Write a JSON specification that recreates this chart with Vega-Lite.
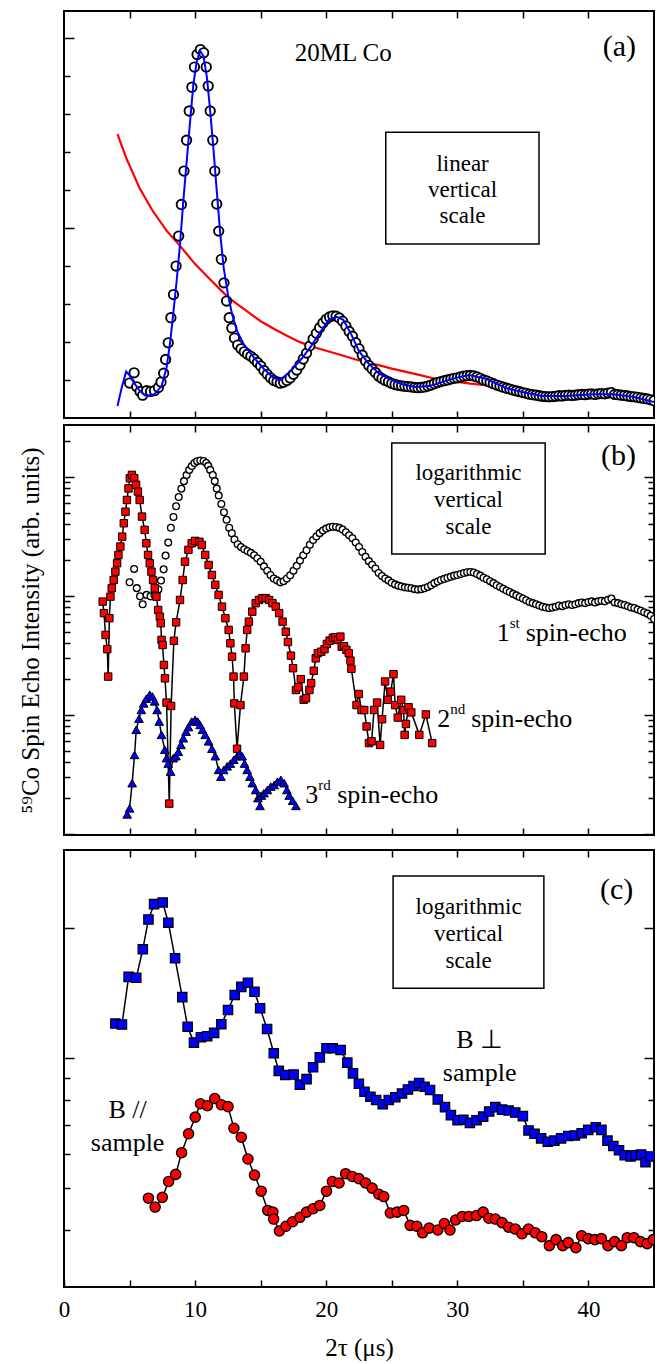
{
"$schema": "https://vega.github.io/schema/vega-lite/v6.json",
"background": "white",
"padding": {"left": 17, "top": 9, "right": 5, "bottom": 5},
"config": {
  "view": {"stroke": "black", "strokeWidth": 2},
  "axis": {"domain": false, "grid": false, "tickColor": "black", "tickWidth": 1.5, "labelFont": "Liberation Serif", "titleFont": "Liberation Serif", "labelColor": "black", "titleColor": "black", "titleFontWeight": "normal"},
  "text": {"font": "Liberation Serif", "color": "black"}
},
"datasets": {
  "echo1": [
    {"x":5.0,"y":13.04},{"x":5.35,"y":16.86},{"x":5.55,"y":11.62},{"x":5.8,"y":9.92},{"x":6.0,"y":8.5},{"x":6.3,"y":10.2},{"x":6.6,"y":9.92},{"x":6.9,"y":10.2},{"x":7.2,"y":11.34},{"x":7.4,"y":13.46},{"x":7.6,"y":16.72},{"x":7.75,"y":21.82},{"x":7.95,"y":28.06},{"x":8.15,"y":37.41},{"x":8.35,"y":46.05},{"x":8.55,"y":56.68},{"x":8.75,"y":67.87},{"x":8.95,"y":79.64},{"x":9.15,"y":92.1},{"x":9.35,"y":103.6},{"x":9.55,"y":114.5},{"x":9.75,"y":123.4},{"x":9.95,"y":130.9},{"x":10.15,"y":135.6},{"x":10.4,"y":137.4},{"x":10.65,"y":136.2},{"x":10.85,"y":130.9},{"x":11.0,"y":123.8},{"x":11.15,"y":114.5},{"x":11.35,"y":103.6},{"x":11.5,"y":92.1},{"x":11.65,"y":79.8},{"x":11.8,"y":69.7},{"x":12.0,"y":59.2},{"x":12.2,"y":50.4},{"x":12.4,"y":43.6},{"x":12.6,"y":37.4},{"x":12.8,"y":33.6},{"x":13.0,"y":29.8},{"x":13.25,"y":27.2},{"x":13.5,"y":25.8},{"x":13.75,"y":24.7},{"x":14.0,"y":23.8},{"x":14.25,"y":23.0},{"x":14.5,"y":22.0},{"x":14.75,"y":20.7},{"x":15.0,"y":19.4},{"x":15.25,"y":17.7},{"x":15.5,"y":16.3},{"x":15.75,"y":15.0},{"x":16.0,"y":14.0},{"x":16.25,"y":13.5},{"x":16.5,"y":13.0},{"x":16.75,"y":13.3},{"x":17.0,"y":14.0},{"x":17.25,"y":14.9},{"x":17.5,"y":16.3},{"x":17.75,"y":17.9},{"x":18.0,"y":19.8},{"x":18.25,"y":22.0},{"x":18.5,"y":24.2},{"x":18.75,"y":26.9},{"x":19.0,"y":29.5},{"x":19.25,"y":31.6},{"x":19.5,"y":33.7},{"x":19.75,"y":35.4},{"x":20.0,"y":36.8},{"x":20.25,"y":37.7},{"x":20.5,"y":38.1},{"x":20.75,"y":38.0},{"x":21.0,"y":37.3},{"x":21.25,"y":36.1},{"x":21.5,"y":34.3},{"x":21.75,"y":32.3},{"x":22.0,"y":30.5},{"x":22.25,"y":28.1},{"x":22.5,"y":25.8},{"x":22.75,"y":23.4},{"x":23.0,"y":21.3},{"x":23.25,"y":19.6},{"x":23.5,"y":18.3},{"x":23.75,"y":17.0},{"x":24.0,"y":15.6},{"x":24.25,"y":14.7},{"x":24.5,"y":14.0},{"x":24.75,"y":13.5},
    {"x":25.0,"y":12.9},{"x":25.25,"y":12.5},{"x":25.5,"y":12.2},{"x":25.75,"y":12.0},{"x":26.0,"y":11.8},{"x":26.25,"y":11.7},{"x":26.5,"y":11.6},{"x":26.75,"y":11.4},{"x":27.0,"y":11.3},{"x":27.25,"y":11.4},{"x":27.5,"y":11.6},{"x":27.75,"y":11.9},{"x":28.0,"y":12.3},{"x":28.25,"y":12.8},{"x":28.5,"y":13.2},{"x":28.75,"y":13.6},{"x":29.0,"y":13.9},{"x":29.25,"y":14.2},{"x":29.5,"y":14.5},{"x":29.75,"y":14.8},{"x":30.0,"y":15.0},{"x":30.25,"y":15.3},{"x":30.5,"y":15.6},{"x":30.75,"y":15.8},{"x":31.0,"y":15.9},{"x":31.25,"y":15.7},{"x":31.5,"y":15.3},{"x":31.75,"y":14.8},{"x":32.0,"y":14.2},{"x":32.25,"y":13.8},{"x":32.5,"y":13.3},{"x":32.75,"y":12.8},{"x":33.0,"y":12.3},{"x":33.25,"y":11.9},{"x":33.5,"y":11.5},{"x":33.75,"y":11.1},{"x":34.0,"y":10.8},{"x":34.25,"y":10.4},{"x":34.5,"y":10.1},{"x":34.75,"y":9.8},{"x":35.0,"y":9.5},{"x":35.25,"y":9.2},{"x":35.5,"y":8.9},{"x":35.75,"y":8.7},{"x":36.0,"y":8.5},{"x":36.25,"y":8.3},{"x":36.5,"y":8.1},{"x":36.75,"y":8.0},{"x":37.0,"y":7.9},{"x":37.25,"y":8.0},{"x":37.5,"y":8.1},{"x":37.75,"y":8.3},{"x":38.0,"y":8.2},{"x":38.25,"y":8.4},{"x":38.5,"y":8.5},{"x":38.75,"y":8.4},{"x":39.0,"y":8.5},{"x":39.25,"y":8.7},{"x":39.5,"y":8.8},{"x":39.75,"y":8.7},{"x":40.0,"y":8.9},{"x":40.25,"y":9.0},{"x":40.5,"y":8.8},{"x":40.75,"y":9.0},{"x":41.0,"y":9.1},{"x":41.25,"y":9.0},{"x":41.5,"y":9.3},{"x":41.75,"y":9.5},{"x":42.0,"y":8.8},{"x":42.25,"y":8.7},{"x":42.5,"y":8.5},{"x":42.75,"y":8.4},{"x":43.0,"y":8.2},{"x":43.25,"y":8.0},{"x":43.5,"y":7.9},{"x":43.75,"y":7.7},{"x":44.0,"y":7.5},{"x":44.25,"y":7.3},{"x":44.5,"y":7.1},{"x":44.75,"y":6.8},{"x":45.0,"y":6.4}
  ],
  "redfit": [
    {"x":4.08,"y":105.9},{"x":4.75,"y":96.9},{"x":5.77,"y":85.7},{"x":6.77,"y":77.2},{"x":7.85,"y":69.7},{"x":8.85,"y":64.2},{"x":10.0,"y":57.4},{"x":11.0,"y":52.4},{"x":12.0,"y":47.5},{"x":12.5,"y":45.1},{"x":13.0,"y":43.2},{"x":14.0,"y":39.7},{"x":15.0,"y":36.1},{"x":16.0,"y":33.3},{"x":17.0,"y":30.7},{"x":18.0,"y":28.3},{"x":19.0,"y":26.5},{"x":20.0,"y":25.1},{"x":21.0,"y":23.7},{"x":22.0,"y":22.2},{"x":23.0,"y":20.8},{"x":24.0,"y":19.7},{"x":25.0,"y":18.4},{"x":26.0,"y":17.3},{"x":27.0,"y":16.2},{"x":28.0,"y":15.0},{"x":29.0,"y":14.2},{"x":30.0,"y":13.5},{"x":31.0,"y":12.8},{"x":32.0,"y":12.3}
  ],
  "bluefit": [
    {"x":4.08,"y":4.5},{"x":4.4,"y":11.3},{"x":4.74,"y":17.3},{"x":5.0,"y":15.9},{"x":5.26,"y":13.7},{"x":5.77,"y":10.1},{"x":6.28,"y":8.2},{"x":6.9,"y":8.9},{"x":7.44,"y":11.9},{"x":7.82,"y":18.7},{"x":8.08,"y":27.6},{"x":8.33,"y":38.7},{"x":8.59,"y":51.0},{"x":8.85,"y":64.9},{"x":9.1,"y":80.9},{"x":9.36,"y":95.8},{"x":9.62,"y":110.8},{"x":9.87,"y":124.6},{"x":10.13,"y":133.1},{"x":10.38,"y":136.9},{"x":10.64,"y":135.0},{"x":10.9,"y":127.0},{"x":11.15,"y":114.5},{"x":11.41,"y":99.6},{"x":11.67,"y":83.5},{"x":11.92,"y":68.6},{"x":12.18,"y":56.0},{"x":12.5,"y":46.2},{"x":12.82,"y":38.7},{"x":13.2,"y":32.4},{"x":13.7,"y":27.6},{"x":14.5,"y":22.4},{"x":15.25,"y":18.3},{"x":16.0,"y":14.9},{"x":16.5,"y":14.2},{"x":17.3,"y":17.6},{"x":18.1,"y":22.0},{"x":18.85,"y":26.8},{"x":19.6,"y":32.4},{"x":20.2,"y":36.6},{"x":20.8,"y":37.7},{"x":21.3,"y":36.6},{"x":21.9,"y":31.3},{"x":22.5,"y":24.9},{"x":23.2,"y":20.5},{"x":24.0,"y":16.7},{"x":24.8,"y":14.6},{"x":25.8,"y":12.6},{"x":26.8,"y":11.6},{"x":27.85,"y":11.9},{"x":28.7,"y":13.2},{"x":29.6,"y":14.6},{"x":30.9,"y":16.0},{"x":32.2,"y":14.6},{"x":33.7,"y":11.2},{"x":35.2,"y":9.4},{"x":36.5,"y":8.2},{"x":38.3,"y":8.2},{"x":40.4,"y":8.9},{"x":41.9,"y":8.9},{"x":43.5,"y":7.8},{"x":45.0,"y":6.0}
  ],
  "echo2": [
    {"x":2.95,"y":8.96},{"x":3.05,"y":7.17},{"x":3.17,"y":4.7},{"x":3.3,"y":3.57},{"x":3.37,"y":2.1},{"x":3.46,"y":6.5},{"x":3.54,"y":9.86},{"x":3.64,"y":11.6},{"x":3.79,"y":13.6},{"x":3.92,"y":16},{"x":4.05,"y":18.8},{"x":4.15,"y":22.1},{"x":4.3,"y":26},{"x":4.44,"y":31.5},{"x":4.56,"y":40.8},{"x":4.69,"y":51},{"x":4.8,"y":64},{"x":4.92,"y":80},{"x":5.02,"y":97.5},{"x":5.18,"y":104},{"x":5.36,"y":97.5},{"x":5.5,"y":85.8},{"x":5.64,"y":75.3},{"x":5.77,"y":64},{"x":5.95,"y":46.4},{"x":6.15,"y":35.9},{"x":6.28,"y":27.7},{"x":6.41,"y":22.1},{"x":6.54,"y":18.8},{"x":6.67,"y":16},{"x":6.79,"y":13.6},{"x":6.92,"y":11.6},{"x":7.05,"y":9.86},{"x":7.18,"y":7.62},{"x":7.31,"y":6.7},{"x":7.38,"y":5.9},{"x":7.44,"y":4.27},{"x":7.52,"y":3.87},{"x":7.62,"y":2.63},{"x":7.7,"y":2.03},{"x":7.82,"y":1.27},{"x":8.03,"y":0.18},{"x":8.17,"y":1.19},{"x":8.38,"y":4.2},{"x":8.55,"y":6.0},{"x":8.85,"y":9.25},{"x":9.05,"y":13.6},{"x":9.23,"y":19.4},{"x":9.49,"y":24.4},{"x":9.74,"y":27.7},{"x":10.0,"y":29},{"x":10.33,"y":28.5},{"x":10.51,"y":26.8},{"x":10.77,"y":22.1},{"x":11.03,"y":18.2},{"x":11.28,"y":15},{"x":11.54,"y":12.4},{"x":11.79,"y":10.2},{"x":12.05,"y":8.13},{"x":12.31,"y":6.5},{"x":12.56,"y":5.18},{"x":12.69,"y":4.0},{"x":12.82,"y":3.09},{"x":12.93,"y":2.1},{"x":12.99,"y":1.25},{"x":13.2,"y":0.52},{"x":13.46,"y":1.21},{"x":13.72,"y":2.1},{"x":13.85,"y":3.63},{"x":13.97,"y":5.18},{"x":14.1,"y":6.08},{"x":14.36,"y":7.38},{"x":14.62,"y":8.69},{"x":14.87,"y":9.25},{"x":15.13,"y":9.58},{"x":15.38,"y":9.58},{"x":15.64,"y":9.25},{"x":15.9,"y":8.69},{"x":16.15,"y":8.13},{"x":16.41,"y":7.17},{"x":16.67,"y":6.08},{"x":16.92,"y":5.0},{"x":17.08,"y":4.1},{"x":17.31,"y":3.15},{"x":17.47,"y":2.47},{"x":17.69,"y":1.62},{"x":17.87,"y":1.71},{"x":18.06,"y":2.0},{"x":18.28,"y":1.34},{"x":18.46,"y":1.38},{"x":18.72,"y":1.62},{"x":18.85,"y":1.85},{"x":19.05,"y":2.35},{"x":19.2,"y":2.99},{"x":19.36,"y":3.3},{"x":19.62,"y":3.4},{"x":19.87,"y":3.57},{"x":20.05,"y":3.95},{"x":20.26,"y":4.21},{"x":20.51,"y":4.45},{"x":20.69,"y":4.5},{"x":20.9,"y":4.27},{"x":21.08,"y":4.55},{"x":21.18,"y":3.74},{"x":21.36,"y":3.78},{"x":21.54,"y":3.52},{"x":21.72,"y":3.3},{"x":21.85,"y":2.86},{"x":21.92,"y":2.44},{"x":22.31,"y":1.21},{"x":22.48,"y":1.5},{"x":22.69,"y":1.1},{"x":22.9,"y":1.1},{"x":23.08,"y":0.8},{"x":23.26,"y":0.58},{"x":23.46,"y":0.6},{"x":23.65,"y":1.1},{"x":23.88,"y":1.27},{"x":24.11,"y":0.56},{"x":24.26,"y":0.92},{"x":24.49,"y":1.91},{"x":24.7,"y":1.34},{"x":24.92,"y":1.57},{"x":25.13,"y":2.2},{"x":25.26,"y":1.21},{"x":25.46,"y":0.95},{"x":25.72,"y":1.34},{"x":25.9,"y":1.1},{"x":25.98,"y":0.68},{"x":26.08,"y":0.84},{"x":26.28,"y":1.16},{"x":26.49,"y":1.05},{"x":27.1,"y":0.68},{"x":27.6,"y":1.01},{"x":28.08,"y":0.58}
  ],
  "echo3": [
    {"x":4.82,"y":0.146},{"x":5.0,"y":0.164},{"x":5.2,"y":0.267},{"x":5.38,"y":0.461},{"x":5.51,"y":0.75},{"x":5.72,"y":0.93},{"x":5.9,"y":1.1},{"x":6.08,"y":1.25},{"x":6.28,"y":1.37},{"x":6.54,"y":1.48},{"x":6.74,"y":1.43},{"x":6.92,"y":1.3},{"x":7.1,"y":1.1},{"x":7.26,"y":0.88},{"x":7.44,"y":0.68},{"x":7.69,"y":0.51},{"x":7.82,"y":0.433},{"x":7.95,"y":0.39},{"x":8.13,"y":0.334},{"x":8.33,"y":0.433},{"x":8.54,"y":0.45},{"x":8.72,"y":0.49},{"x":8.92,"y":0.56},{"x":9.1,"y":0.637},{"x":9.31,"y":0.724},{"x":9.49,"y":0.79},{"x":9.74,"y":0.88},{"x":10.0,"y":0.91},{"x":10.2,"y":0.88},{"x":10.38,"y":0.824},{"x":10.56,"y":0.75},{"x":10.77,"y":0.68},{"x":11.03,"y":0.6},{"x":11.28,"y":0.52},{"x":11.54,"y":0.45},{"x":11.79,"y":0.345},{"x":11.97,"y":0.303},{"x":12.18,"y":0.345},{"x":12.44,"y":0.37},{"x":12.69,"y":0.39},{"x":12.95,"y":0.42},{"x":13.2,"y":0.45},{"x":13.41,"y":0.47},{"x":13.59,"y":0.45},{"x":13.77,"y":0.39},{"x":13.97,"y":0.345},{"x":14.18,"y":0.303},{"x":14.36,"y":0.267},{"x":14.62,"y":0.234},{"x":14.79,"y":0.2},{"x":14.95,"y":0.172},{"x":15.05,"y":0.21},{"x":15.25,"y":0.22},{"x":15.51,"y":0.234},{"x":15.77,"y":0.25},{"x":16.03,"y":0.258},{"x":16.28,"y":0.275},{"x":16.54,"y":0.285},{"x":16.79,"y":0.267},{"x":17.0,"y":0.234},{"x":17.18,"y":0.21},{"x":17.44,"y":0.19},{"x":17.69,"y":0.172}
  ],
  "perp": [
    {"x":3.92,"y":6.01},{"x":4.42,"y":5.98},{"x":4.93,"y":7.71},{"x":5.51,"y":7.67},{"x":6.01,"y":8.93},{"x":6.44,"y":10.47},{"x":6.87,"y":11.36},{"x":7.53,"y":11.46},{"x":7.96,"y":10.29},{"x":8.47,"y":8.51},{"x":9.02,"y":6.92},{"x":9.43,"y":5.91},{"x":9.91,"y":5.43},{"x":10.44,"y":5.59},{"x":10.92,"y":5.62},{"x":11.45,"y":5.72},{"x":12.0,"y":5.99},{"x":12.51,"y":6.46},{"x":13.02,"y":7.0},{"x":13.52,"y":7.31},{"x":14.03,"y":7.47},{"x":14.53,"y":7.12},{"x":14.96,"y":6.52},{"x":15.49,"y":5.84},{"x":16.0,"y":5.13},{"x":16.38,"y":4.67},{"x":16.88,"y":4.57},{"x":17.51,"y":4.58},{"x":17.99,"y":4.34},{"x":18.5,"y":4.47},{"x":19.0,"y":4.76},{"x":19.51,"y":5.02},{"x":20.02,"y":5.27},{"x":20.5,"y":5.27},{"x":21.1,"y":5.22},{"x":21.61,"y":4.88},{"x":22.04,"y":4.61},{"x":22.49,"y":4.36},{"x":22.92,"y":4.18},{"x":23.37,"y":4.07},{"x":23.81,"y":4.0},{"x":24.31,"y":3.91},{"x":24.77,"y":4.0},{"x":25.27,"y":4.06},{"x":25.78,"y":4.14},{"x":26.23,"y":4.23},{"x":26.66,"y":4.31},{"x":27.09,"y":4.38},{"x":27.5,"y":4.29},{"x":27.92,"y":4.22},{"x":28.51,"y":4.01},{"x":29.06,"y":3.85},{"x":29.51,"y":3.69},{"x":30.02,"y":3.59},{"x":30.46,"y":3.6},{"x":30.96,"y":3.54},{"x":31.46,"y":3.59},{"x":31.97,"y":3.66},{"x":32.43,"y":3.76},{"x":32.9,"y":3.85},{"x":33.41,"y":3.8},{"x":33.91,"y":3.78},{"x":34.42,"y":3.74},{"x":35.0,"y":3.67},{"x":35.43,"y":3.4},{"x":35.89,"y":3.34},{"x":36.39,"y":3.26},{"x":36.9,"y":3.2},{"x":37.4,"y":3.22},{"x":37.91,"y":3.26},{"x":38.46,"y":3.3},{"x":38.97,"y":3.31},{"x":39.48,"y":3.35},{"x":39.98,"y":3.41},{"x":40.56,"y":3.46},{"x":40.99,"y":3.41},{"x":41.45,"y":3.22},{"x":41.9,"y":3.13},{"x":42.33,"y":3.06},{"x":42.76,"y":2.98},{"x":43.21,"y":2.96},{"x":43.59,"y":2.98},{"x":44.02,"y":2.99},{"x":44.35,"y":2.87},{"x":44.73,"y":2.96}
  ],
  "para": [
    {"x":6.44,"y":2.37},{"x":6.95,"y":2.26},{"x":7.5,"y":2.38},{"x":7.98,"y":2.59},{"x":8.52,"y":2.69},{"x":8.97,"y":3.02},{"x":9.5,"y":3.34},{"x":10.01,"y":3.65},{"x":10.41,"y":3.92},{"x":10.94,"y":3.88},{"x":11.5,"y":4.03},{"x":12.0,"y":3.9},{"x":12.51,"y":3.86},{"x":12.96,"y":3.44},{"x":13.52,"y":3.28},{"x":14.03,"y":2.92},{"x":14.53,"y":2.68},{"x":15.04,"y":2.46},{"x":15.54,"y":2.22},{"x":15.93,"y":2.2},{"x":15.99,"y":2.12},{"x":16.43,"y":1.99},{"x":16.93,"y":2.04},{"x":17.44,"y":2.09},{"x":17.99,"y":2.14},{"x":18.5,"y":2.2},{"x":19.0,"y":2.24},{"x":19.51,"y":2.28},{"x":20.02,"y":2.46},{"x":20.47,"y":2.59},{"x":20.98,"y":2.57},{"x":21.48,"y":2.7},{"x":21.99,"y":2.66},{"x":22.49,"y":2.63},{"x":23.0,"y":2.57},{"x":23.5,"y":2.5},{"x":24.01,"y":2.42},{"x":24.39,"y":2.39},{"x":24.89,"y":2.19},{"x":25.4,"y":2.2},{"x":25.91,"y":2.22},{"x":26.4,"y":2.05},{"x":26.91,"y":2.04},{"x":27.35,"y":1.97},{"x":27.85,"y":2.02},{"x":28.51,"y":2.0},{"x":29.01,"y":2.07},{"x":29.44,"y":2.0},{"x":29.87,"y":2.11},{"x":30.38,"y":2.15},{"x":30.88,"y":2.15},{"x":31.46,"y":2.16},{"x":31.97,"y":2.2},{"x":32.4,"y":2.13},{"x":32.9,"y":2.12},{"x":33.41,"y":2.08},{"x":33.91,"y":2.03},{"x":34.42,"y":2.01},{"x":34.93,"y":1.96},{"x":35.43,"y":2.01},{"x":35.94,"y":1.97},{"x":36.44,"y":1.93},{"x":37.02,"y":1.84},{"x":37.53,"y":1.9},{"x":38.04,"y":1.84},{"x":38.46,"y":1.87},{"x":39.04,"y":1.82},{"x":39.48,"y":1.94},{"x":39.98,"y":1.91},{"x":40.49,"y":1.9},{"x":40.99,"y":1.91},{"x":41.49,"y":1.84},{"x":42.0,"y":1.88},{"x":42.51,"y":1.84},{"x":42.96,"y":1.92},{"x":43.47,"y":1.92},{"x":43.97,"y":1.88},{"x":44.48,"y":1.86},{"x":44.94,"y":1.9}
  ]
},
"bounds": "flush",
"spacing": 7,
"vconcat": [
   {
    "width": 590, "height": 407,
    "resolve": {"axis": {"x": "independent", "y": "independent"}},
    "layer": [
     {"data": {"name": "redfit"}, "mark": {"type": "line", "color": "#ff0000", "strokeWidth": 2.2, "clip": true},
      "encoding": {
        "x": {"field": "x", "type": "quantitative", "scale": {"domain": [0, 45], "nice": false, "zero": false}, "axis": {"orient": "bottom", "values": [5,10,15,20,25,30,35,40], "labels": false, "tickSize": -7, "title": null}},
        "y": {"field": "y", "type": "quantitative", "scale": {"domain": [0, 151.8], "nice": false, "zero": false}, "axis": {"orient": "left", "values": [14.17,28.34,42.51,56.68,70.85,85.02,99.19,113.36,127.53,141.7], "labels": false, "title": null, "tickSize": {"condition": {"test": "datum.value > 141 || (datum.value > 70 && datum.value < 71)", "value": -10}, "value": -6}}}
      }},
     {"data": {"name": "echo1"}, "mark": {"type": "point", "shape": "circle", "filled": true, "fill": "white", "stroke": "black", "strokeWidth": 1.9, "size": 88, "opacity": 1, "clip": true},
      "encoding": {
        "x": {"field": "x", "type": "quantitative", "scale": {"domain": [0, 45], "nice": false, "zero": false}, "axis": {"orient": "top", "values": [5,10,15,20,25,30,35,40], "labels": false, "tickSize": -7, "title": null}},
        "y": {"field": "y", "type": "quantitative", "scale": {"domain": [0, 151.8], "nice": false, "zero": false}, "axis": null}
      }},
     {"data": {"name": "bluefit"}, "mark": {"type": "line", "color": "#0000ff", "strokeWidth": 2, "clip": true},
      "encoding": {
        "x": {"field": "x", "type": "quantitative", "scale": {"domain": [0, 45], "nice": false, "zero": false}, "axis": null},
        "y": {"field": "y", "type": "quantitative", "scale": {"domain": [0, 151.8], "nice": false, "zero": false}, "axis": null}
      }},
     {"data": {"values": [{}]}, "mark": {"type": "rect", "filled": false, "stroke": "black", "strokeWidth": 1.5},
      "encoding": {
        "x": {"datum": 24.54, "type": "quantitative", "scale": {"domain": [0, 45], "nice": false, "zero": false}, "axis": null},
        "x2": {"datum": 36.23},
        "y": {"datum": 106.6, "type": "quantitative", "scale": {"domain": [0, 151.8], "nice": false, "zero": false}, "axis": null},
        "y2": {"datum": 64.9}
      }},
     {"data": {"values": [{}]}, "mark": {"type": "text", "text": ["linear", "vertical", "scale"], "fontSize": 23, "lineHeight": 26, "align": "center", "baseline": "middle"},
      "encoding": {
        "x": {"datum": 30.4, "type": "quantitative", "scale": {"domain": [0, 45], "nice": false, "zero": false}, "axis": null},
        "y": {"datum": 94.7, "type": "quantitative", "scale": {"domain": [0, 151.8], "nice": false, "zero": false}, "axis": null}
      }},
     {"data": {"values": [{}]}, "mark": {"type": "text", "text": "20ML Co", "fontSize": 25, "align": "center", "baseline": "alphabetic"},
      "encoding": {
        "x": {"datum": 21.3, "type": "quantitative", "scale": {"domain": [0, 45], "nice": false, "zero": false}, "axis": null},
        "y": {"datum": 133, "type": "quantitative", "scale": {"domain": [0, 151.8], "nice": false, "zero": false}, "axis": null}
      }},
     {"data": {"values": [{}]}, "mark": {"type": "text", "text": "(a)", "fontSize": 30, "align": "center", "baseline": "middle"},
      "encoding": {
        "x": {"datum": 42.36, "type": "quantitative", "scale": {"domain": [0, 45], "nice": false, "zero": false}, "axis": null},
        "y": {"datum": 138.3, "type": "quantitative", "scale": {"domain": [0, 151.8], "nice": false, "zero": false}, "axis": null}
      }}
    ]
   },
   {
    "width": 590, "height": 410,
    "resolve": {"axis": {"x": "independent", "y": "independent"}},
    "layer": [
     {"data": {"name": "echo1"}, "mark": {"type": "point", "shape": "circle", "filled": true, "fill": "white", "stroke": "black", "strokeWidth": 1.3, "size": 46, "opacity": 1, "clip": true},
      "encoding": {
        "x": {"field": "x", "type": "quantitative", "scale": {"domain": [0, 45], "nice": false, "zero": false}, "axis": {"orient": "bottom", "values": [5,10,15,20,25,30,35,40], "labels": false, "tickSize": -7, "title": null}},
        "y": {"field": "y", "type": "quantitative", "scale": {"type": "log", "domain": [0.098, 273], "nice": false}, "axis": {"orient": "left", "values": [0.1,0.2,0.3,0.4,0.5,0.6,0.7,0.8,0.9,1,2,3,4,5,6,7,8,9,10,20,30,40,50,60,70,80,90,100,200], "labels": false, "title": "⁵⁹Co Spin Echo Intensity (arb. units)", "titleFontSize": 25, "titlePadding": 20, "tickSize": {"condition": {"test": "datum.value == 0.1 || datum.value == 1 || datum.value == 10 || datum.value == 100", "value": -10}, "value": -6}}}
      }},
     {"data": {"name": "echo2"}, "mark": {"type": "line", "color": "black", "strokeWidth": 1.5, "clip": true},
      "encoding": {
        "x": {"field": "x", "type": "quantitative", "scale": {"domain": [0, 45], "nice": false, "zero": false}, "axis": {"orient": "top", "values": [5,10,15,20,25,30,35,40], "labels": false, "tickSize": -7, "title": null}},
        "y": {"field": "y", "type": "quantitative", "scale": {"type": "log", "domain": [0.098, 273], "nice": false}, "axis": {"orient": "right", "values": [0.1,0.2,0.3,0.4,0.5,0.6,0.7,0.8,0.9,1,2,3,4,5,6,7,8,9,10,20,30,40,50,60,70,80,90,100,200], "labels": false, "title": null, "tickSize": {"condition": {"test": "datum.value == 0.1 || datum.value == 1 || datum.value == 10 || datum.value == 100", "value": -10}, "value": -6}}}
      }},
     {"data": {"name": "echo2"}, "mark": {"type": "point", "shape": "square", "filled": true, "fill": "#ff0000", "stroke": "black", "strokeWidth": 1, "size": 55, "opacity": 1, "clip": true},
      "encoding": {
        "x": {"field": "x", "type": "quantitative", "scale": {"domain": [0, 45], "nice": false, "zero": false}, "axis": null},
        "y": {"field": "y", "type": "quantitative", "scale": {"type": "log", "domain": [0.098, 273], "nice": false}, "axis": null}
      }},
     {"data": {"name": "echo3"}, "mark": {"type": "line", "color": "black", "strokeWidth": 1.5, "clip": true},
      "encoding": {
        "x": {"field": "x", "type": "quantitative", "scale": {"domain": [0, 45], "nice": false, "zero": false}, "axis": null},
        "y": {"field": "y", "type": "quantitative", "scale": {"type": "log", "domain": [0.098, 273], "nice": false}, "axis": null}
      }},
     {"data": {"name": "echo3"}, "mark": {"type": "point", "shape": "triangle-up", "filled": true, "fill": "#0000ff", "stroke": "black", "strokeWidth": 1, "size": 75, "opacity": 1, "clip": true},
      "encoding": {
        "x": {"field": "x", "type": "quantitative", "scale": {"domain": [0, 45], "nice": false, "zero": false}, "axis": null},
        "y": {"field": "y", "type": "quantitative", "scale": {"type": "log", "domain": [0.098, 273], "nice": false}, "axis": null}
      }},
     {"data": {"values": [{}]}, "mark": {"type": "rect", "filled": false, "stroke": "black", "strokeWidth": 1.5},
      "encoding": {
        "x": {"datum": 25.0, "type": "quantitative", "scale": {"domain": [0, 45], "nice": false, "zero": false}, "axis": null},
        "x2": {"datum": 36.7},
        "y": {"datum": 193.1, "type": "quantitative", "scale": {"type": "log", "domain": [0.098, 273], "nice": false}, "axis": null},
        "y2": {"datum": 22.5}
      }},
     {"data": {"values": [{}]}, "mark": {"type": "text", "text": ["logarithmic", "vertical", "scale"], "fontSize": 23, "lineHeight": 27, "align": "center", "baseline": "middle"},
      "encoding": {
        "x": {"datum": 30.85, "type": "quantitative", "scale": {"domain": [0, 45], "nice": false, "zero": false}, "axis": null},
        "y": {"datum": 108.0, "type": "quantitative", "scale": {"type": "log", "domain": [0.098, 273], "nice": false}, "axis": null}
      }},
     {"data": {"values": [{}]}, "mark": {"type": "text", "text": "(b)", "fontSize": 30, "align": "center", "baseline": "middle"},
      "encoding": {
        "x": {"datum": 42.3, "type": "quantitative", "scale": {"domain": [0, 45], "nice": false, "zero": false}, "axis": null},
        "y": {"datum": 150, "type": "quantitative", "scale": {"type": "log", "domain": [0.098, 273], "nice": false}, "axis": null}
      }},
     {"data": {"values": [{}]}, "mark": {"type": "text", "text": "1", "fontSize": 26, "align": "left", "baseline": "alphabetic"},
      "encoding": {
        "x": {"datum": 33.0, "type": "quantitative", "scale": {"domain": [0, 45], "nice": false, "zero": false}, "axis": null},
        "y": {"datum": 4.19, "type": "quantitative", "scale": {"type": "log", "domain": [0.098, 273], "nice": false}, "axis": null}
      }},
     {"data": {"values": [{}]}, "mark": {"type": "text", "text": "st", "fontSize": 15, "align": "left", "baseline": "alphabetic", "dx": 13, "dy": -13},
      "encoding": {
        "x": {"datum": 33.0, "type": "quantitative", "scale": {"domain": [0, 45], "nice": false, "zero": false}, "axis": null},
        "y": {"datum": 4.19, "type": "quantitative", "scale": {"type": "log", "domain": [0.098, 273], "nice": false}, "axis": null}
      }},
     {"data": {"values": [{}]}, "mark": {"type": "text", "text": "spin-echo", "fontSize": 26, "align": "left", "baseline": "alphabetic", "dx": 29},
      "encoding": {
        "x": {"datum": 33.0, "type": "quantitative", "scale": {"domain": [0, 45], "nice": false, "zero": false}, "axis": null},
        "y": {"datum": 4.19, "type": "quantitative", "scale": {"type": "log", "domain": [0.098, 273], "nice": false}, "axis": null}
      }},
     {"data": {"values": [{}]}, "mark": {"type": "text", "text": "2", "fontSize": 26, "align": "left", "baseline": "alphabetic"},
      "encoding": {
        "x": {"datum": 28.46, "type": "quantitative", "scale": {"domain": [0, 45], "nice": false, "zero": false}, "axis": null},
        "y": {"datum": 0.792, "type": "quantitative", "scale": {"type": "log", "domain": [0.098, 273], "nice": false}, "axis": null}
      }},
     {"data": {"values": [{}]}, "mark": {"type": "text", "text": "nd", "fontSize": 15, "align": "left", "baseline": "alphabetic", "dx": 13, "dy": -13},
      "encoding": {
        "x": {"datum": 28.46, "type": "quantitative", "scale": {"domain": [0, 45], "nice": false, "zero": false}, "axis": null},
        "y": {"datum": 0.792, "type": "quantitative", "scale": {"type": "log", "domain": [0.098, 273], "nice": false}, "axis": null}
      }},
     {"data": {"values": [{}]}, "mark": {"type": "text", "text": "spin-echo", "fontSize": 26, "align": "left", "baseline": "alphabetic", "dx": 34},
      "encoding": {
        "x": {"datum": 28.46, "type": "quantitative", "scale": {"domain": [0, 45], "nice": false, "zero": false}, "axis": null},
        "y": {"datum": 0.792, "type": "quantitative", "scale": {"type": "log", "domain": [0.098, 273], "nice": false}, "axis": null}
      }},
     {"data": {"values": [{}]}, "mark": {"type": "text", "text": "3", "fontSize": 26, "align": "left", "baseline": "alphabetic"},
      "encoding": {
        "x": {"datum": 18.4, "type": "quantitative", "scale": {"domain": [0, 45], "nice": false, "zero": false}, "axis": null},
        "y": {"datum": 0.181, "type": "quantitative", "scale": {"type": "log", "domain": [0.098, 273], "nice": false}, "axis": null}
      }},
     {"data": {"values": [{}]}, "mark": {"type": "text", "text": "rd", "fontSize": 15, "align": "left", "baseline": "alphabetic", "dx": 13, "dy": -13},
      "encoding": {
        "x": {"datum": 18.4, "type": "quantitative", "scale": {"domain": [0, 45], "nice": false, "zero": false}, "axis": null},
        "y": {"datum": 0.181, "type": "quantitative", "scale": {"type": "log", "domain": [0.098, 273], "nice": false}, "axis": null}
      }},
     {"data": {"values": [{}]}, "mark": {"type": "text", "text": "spin-echo", "fontSize": 26, "align": "left", "baseline": "alphabetic", "dx": 32},
      "encoding": {
        "x": {"datum": 18.4, "type": "quantitative", "scale": {"domain": [0, 45], "nice": false, "zero": false}, "axis": null},
        "y": {"datum": 0.181, "type": "quantitative", "scale": {"type": "log", "domain": [0.098, 273], "nice": false}, "axis": null}
      }}
    ]
   },
   {
    "width": 590, "height": 1,
    "view": {"stroke": null},
    "data": {"values": [{}]},
    "mark": {"type": "point", "opacity": 0}
   },
   {
  "width": 590, "height": 437,
  "resolve": {"axis": {"x": "independent", "y": "independent"}},
  "layer": [
   {"data": {"name": "perp"}, "mark": {"type": "line", "color": "black", "strokeWidth": 1.5, "clip": true},
    "encoding": {
      "x": {"field": "x", "type": "quantitative", "scale": {"domain": [0, 45], "nice": false, "zero": false}, "axis": {"orient": "bottom", "values": [0,5,10,15,20,25,30,35,40], "labelExpr": "datum.value % 10 === 0 ? datum.label : ''", "labelFlush": false, "labelOverlap": false, "labelFontSize": 23, "labelPadding": 18, "tickSize": -7, "title": "2τ (μs)", "titleFontSize": 25, "titlePadding": 14}},
      "y": {"field": "y", "type": "quantitative", "scale": {"type": "log", "domain": [1.476, 15.16], "nice": false}, "axis": {"orient": "left", "values": [2,2.5,3,3.5,4,4.5,5,10], "labels": false, "title": null, "tickSize": {"condition": {"test": "datum.value == 5 || datum.value == 10", "value": -10}, "value": -6}}}
    }},
   {"data": {"name": "perp"}, "mark": {"type": "point", "shape": "square", "filled": true, "fill": "#0000ff", "stroke": "black", "strokeWidth": 1.2, "size": 88, "opacity": 1, "clip": true},
    "encoding": {
      "x": {"field": "x", "type": "quantitative", "scale": {"domain": [0, 45], "nice": false, "zero": false}, "axis": {"orient": "top", "values": [5,10,15,20,25,30,35,40], "labels": false, "tickSize": -7, "title": null}},
      "y": {"field": "y", "type": "quantitative", "scale": {"type": "log", "domain": [1.476, 15.16], "nice": false}, "axis": {"orient": "right", "values": [2,2.5,3,3.5,4,4.5,5,10], "labels": false, "title": null, "tickSize": {"condition": {"test": "datum.value == 5 || datum.value == 10", "value": -10}, "value": -6}}}
    }},
   {"data": {"name": "para"}, "mark": {"type": "line", "color": "black", "strokeWidth": 1.5, "clip": true},
    "encoding": {
      "x": {"field": "x", "type": "quantitative", "scale": {"domain": [0, 45], "nice": false, "zero": false}, "axis": null},
      "y": {"field": "y", "type": "quantitative", "scale": {"type": "log", "domain": [1.476, 15.16], "nice": false}, "axis": null}
    }},
   {"data": {"name": "para"}, "mark": {"type": "point", "shape": "circle", "filled": true, "fill": "#ff0000", "stroke": "black", "strokeWidth": 1.3, "size": 105, "opacity": 1, "clip": true},
    "encoding": {
      "x": {"field": "x", "type": "quantitative", "scale": {"domain": [0, 45], "nice": false, "zero": false}, "axis": null},
      "y": {"field": "y", "type": "quantitative", "scale": {"type": "log", "domain": [1.476, 15.16], "nice": false}, "axis": null}
    }},
   {"data": {"values": [{}]}, "mark": {"type": "rect", "filled": false, "stroke": "black", "strokeWidth": 1.5},
    "encoding": {
      "x": {"datum": 25.1, "type": "quantitative", "scale": {"domain": [0, 45], "nice": false, "zero": false}, "axis": null},
      "x2": {"datum": 36.6},
      "y": {"datum": 13.19, "type": "quantitative", "scale": {"type": "log", "domain": [1.476, 15.16], "nice": false}, "axis": null},
      "y2": {"datum": 7.26}
    }},
   {"data": {"values": [{}]}, "mark": {"type": "text", "text": ["logarithmic", "vertical", "scale"], "fontSize": 23, "lineHeight": 27, "align": "center", "baseline": "middle"},
    "encoding": {
      "x": {"datum": 30.86, "type": "quantitative", "scale": {"domain": [0, 45], "nice": false, "zero": false}, "axis": null},
      "y": {"datum": 11.18, "type": "quantitative", "scale": {"type": "log", "domain": [1.476, 15.16], "nice": false}, "axis": null}
    }},
   {"data": {"values": [{}]}, "mark": {"type": "text", "text": "(c)", "fontSize": 30, "align": "center", "baseline": "middle"},
    "encoding": {
      "x": {"datum": 42.15, "type": "quantitative", "scale": {"domain": [0, 45], "nice": false, "zero": false}, "axis": null},
      "y": {"datum": 12.25, "type": "quantitative", "scale": {"type": "log", "domain": [1.476, 15.16], "nice": false}, "axis": null}
    }},
   {"data": {"values": [{}]}, "mark": {"type": "text", "text": ["B ⊥", "sample"], "fontSize": 26, "lineHeight": 33, "align": "center", "baseline": "middle"},
    "encoding": {
      "x": {"datum": 31.7, "type": "quantitative", "scale": {"domain": [0, 45], "nice": false, "zero": false}, "axis": null},
      "y": {"datum": 5.505, "type": "quantitative", "scale": {"type": "log", "domain": [1.476, 15.16], "nice": false}, "axis": null}
    }},
   {"data": {"values": [{}]}, "mark": {"type": "text", "text": ["B //", "sample"], "fontSize": 26, "lineHeight": 33, "align": "center", "baseline": "middle"},
    "encoding": {
      "x": {"datum": 4.85, "type": "quantitative", "scale": {"domain": [0, 45], "nice": false, "zero": false}, "axis": null},
      "y": {"datum": 3.79, "type": "quantitative", "scale": {"type": "log", "domain": [1.476, 15.16], "nice": false}, "axis": null}
    }}
  ]
 }
]
}
